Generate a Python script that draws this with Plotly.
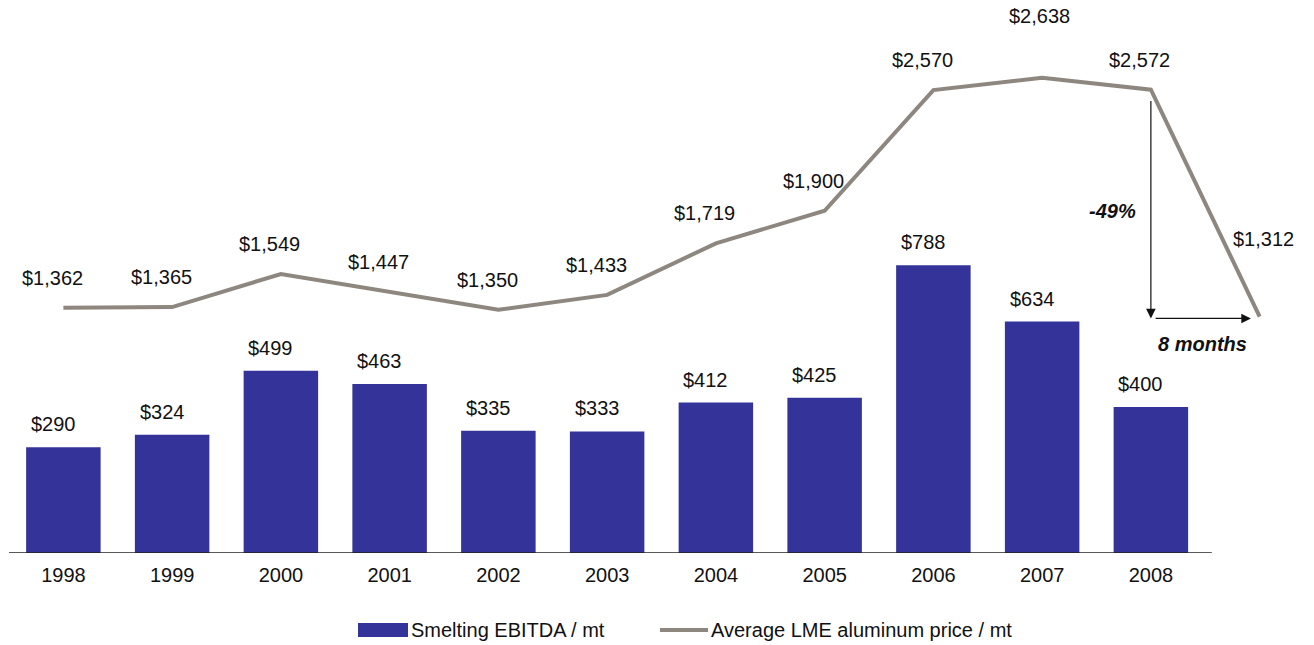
import plotly.graph_objects as go

# Yearly figures
years = ["1998", "1999", "2000", "2001", "2002", "2003", "2004", "2005", "2006", "2007", "2008"]
ebitda = [290, 324, 499, 463, 335, 333, 412, 425, 788, 634, 400]
# LME price: one value per year plus the latest reading 8 months after 2008
lme_price = [1362, 1365, 1549, 1447, 1350, 1433, 1719, 1900, 2570, 2638, 2572, 1312]

BAR_COLOR = "#333399"
LINE_COLOR = "#8e8780"
FONT = "Liberation Sans, Arial, sans-serif"
FS = 20

bar_x = list(range(len(years)))
line_x = list(range(len(lme_price)))

fig = go.Figure()
fig.add_trace(go.Bar(
    x=bar_x, y=ebitda, width=0.685, marker=dict(color=BAR_COLOR, line=dict(width=0)),
    name="Smelting EBITDA / mt", showlegend=False,
))
fig.add_trace(go.Scatter(
    x=line_x, y=lme_price, yaxis="y2", mode="lines",
    line=dict(color=LINE_COLOR, width=4), name="Average LME aluminum price / mt",
    showlegend=False,
))

annotations = []
# bar value labels
for xi, v in zip(bar_x, ebitda):
    annotations.append(dict(x=xi, y=v, xref="x", yref="y", text=f"${v:,}", showarrow=False,
                            xshift=-10, yshift=23, font=dict(family=FONT, size=FS, color="#111")))
# price labels
shifts = {9: (-3, 62), 11: (4, 78)}
for xi, v in zip(line_x, lme_price):
    dx, dy = shifts.get(xi, (-11, 30))
    annotations.append(dict(x=xi, y=v, xref="x", yref="y2", text=f"${v:,}", showarrow=False,
                            xshift=dx, yshift=dy, font=dict(family=FONT, size=FS, color="#111")))

# drop annotation: vertical arrow down to the latest price, then horizontal across 8 months
peak_x = len(years) - 1
last_x = len(lme_price) - 1
annotations.append(dict(x=peak_x, y=lme_price[-1] - 10, xref="x", yref="y2",
                        ax=peak_x, ay=lme_price[peak_x] - 55, axref="x", ayref="y2",
                        text="", showarrow=True, arrowhead=2, arrowsize=1.6, arrowwidth=1.2,
                        arrowcolor="#111"))
annotations.append(dict(x=last_x - 0.08, y=lme_price[-1] - 10, xref="x", yref="y2",
                        ax=peak_x + 0.03, ay=lme_price[-1] - 10, axref="x", ayref="y2",
                        text="", showarrow=True, arrowhead=2, arrowsize=1.6, arrowwidth=1.2,
                        arrowcolor="#111"))
annotations.append(dict(x=peak_x, y=(lme_price[peak_x] + lme_price[-1]) / 2, xref="x", yref="y2",
                        text="<b><i>-49%</i></b>", showarrow=False, xshift=-38, yshift=-8,
                        font=dict(family=FONT, size=FS, color="#111")))
annotations.append(dict(x=(peak_x + last_x) / 2, y=lme_price[-1], xref="x", yref="y2",
                        text="<b><i>8 months</i></b>", showarrow=False, xshift=-3, yshift=-27,
                        font=dict(family=FONT, size=FS, color="#111")))

# custom legend
W, H_PLOT, LM = 1314, 553, 9
def px(xp):
    return (xp - LM) / (W - LM)
def py(yp):
    return (H_PLOT - yp) / H_PLOT

shapes = [
    dict(type="line", xref="x", yref="y", x0=-0.5, x1=10.56, y0=0, y1=0,
         line=dict(color="#222", width=1.5)),
    dict(type="rect", xref="paper", yref="paper", x0=px(358), x1=px(408), y0=py(637), y1=py(623),
         fillcolor=BAR_COLOR, line=dict(width=0)),
    dict(type="line", xref="paper", yref="paper", x0=px(660), x1=px(708), y0=py(630), y1=py(630),
         line=dict(color=LINE_COLOR, width=4)),
]
annotations.append(dict(x=px(409), y=py(630), xref="paper", yref="paper", text="Smelting EBITDA / mt",
                        showarrow=False, xanchor="left", yanchor="middle",
                        font=dict(family=FONT, size=FS, color="#111")))
annotations.append(dict(x=px(709), y=py(630), xref="paper", yref="paper",
                        text="Average LME aluminum price / mt",
                        showarrow=False, xanchor="left", yanchor="middle",
                        font=dict(family=FONT, size=FS, color="#111")))

fig.update_layout(
    width=W, height=645,
    margin=dict(l=LM, r=0, t=0, b=645 - H_PLOT),
    paper_bgcolor="white", plot_bgcolor="white",
    font=dict(family=FONT, size=FS, color="#111"),
    xaxis=dict(range=[-0.5, 11.5], tickmode="array", tickvals=bar_x, ticktext=years,
               showgrid=False, zeroline=False, showline=False, ticks="", ticklen=0,
               ticklabelstandoff=8,
               tickfont=dict(family=FONT, size=FS, color="#111")),
    yaxis=dict(range=[0, 1515], visible=False, showgrid=False, zeroline=False),
    yaxis2=dict(range=[0, 3070], overlaying="y", visible=False, showgrid=False, zeroline=False),
    annotations=annotations, shapes=shapes, showlegend=False, bargap=0.3,
)

fig.write_html("out.html")
